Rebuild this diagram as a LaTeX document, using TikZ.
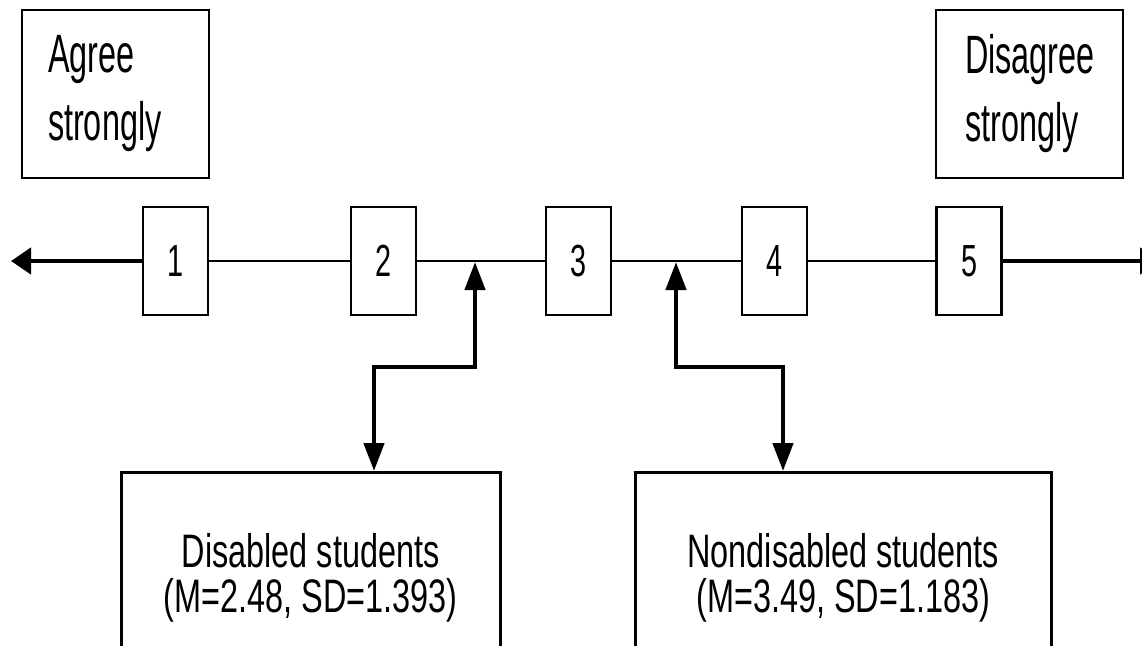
\documentclass[tikz,border=0pt]{standalone}
\usepackage{fontspec}
\setmainfont{Liberation Sans}
\newfontfamily\topfont[FakeStretch=0.6]{Liberation Sans}
\newfontfamily\botfont[FakeStretch=0.69]{Liberation Sans}
\newfontfamily\numfont[FakeStretch=0.64]{Liberation Sans}
\usetikzlibrary{arrows.meta,calc}
\begin{document}
\begin{tikzpicture}[x=1pt,y=-1pt,
  scalebox/.style={draw,line width=2.5pt,minimum width=65pt,minimum height=108pt,inner sep=0pt,fill=white,
    font=\numfont\fontsize{45}{46}\selectfont},
  endbox/.style={draw,line width=2.5pt,minimum height=168pt,align=left,
    font=\topfont\fontsize{54}{68}\selectfont},
  groupbox/.style={draw,line width=2.5pt,minimum height=212pt,anchor=north west,align=center,
    font=\botfont\fontsize{47}{45}\selectfont},
  scaleline/.style={line width=2pt},
  endarrow/.style={line width=4.5pt,-{Triangle[length=20pt,width=26pt]}},
  meanarrow/.style={line width=4.5pt,{Triangle[length=28pt,width=20pt]}-{Triangle[length=28pt,width=20pt]}}]
\useasboundingbox (0,0) rectangle (1142,645);
\clip (0,0) rectangle (1142,645);
\fill[white] (0,0) rectangle (1142,645);

% end labels
\node[endbox,text width=135pt,inner xsep=26pt] (agree) at (115.5,94) {Agree\\strongly};
\node[endbox,text width=129pt,inner xsep=29pt] (disagree) at (1029.5,94) {Disagree\\strongly};

% scale
\coordinate (L) at (11,261);
\coordinate (R) at (1160,261);
\node[scalebox] (s1) at (175.5,261) {1};
\node[scalebox] (s2) at (383.5,261) {2};
\node[scalebox] (s3) at (578.5,261) {3};
\node[scalebox] (s4) at (774.5,261) {4};
\node[scalebox] (s5) at (969,261) {5};
\draw[scaleline] (s1.east) -- (s2.west) (s2.east) -- (s3.west) (s3.east) -- (s4.west) (s4.east) -- (s5.west);
\draw[endarrow] (s1.west) -- (L);
\draw[endarrow] (s5.east) -- (R);

% groups
\node[groupbox,minimum width=379pt] (dis) at (120,471) {Disabled students\\(M=2.48, SD=1.393)};
\node[groupbox,minimum width=416pt] (non) at (634,471) {Nondisabled students\\(M=3.49, SD=1.183)};

\coordinate (m1) at (475,262);
\coordinate (m2) at (676,262);
\draw[meanarrow] (m1) -- ++(0,105) -| ($(dis.north west)+(254,0)$);
\draw[meanarrow] (m2) -- ++(0,105) -| ($(non.north west)+(149,0)$);
\end{tikzpicture}
\end{document}
